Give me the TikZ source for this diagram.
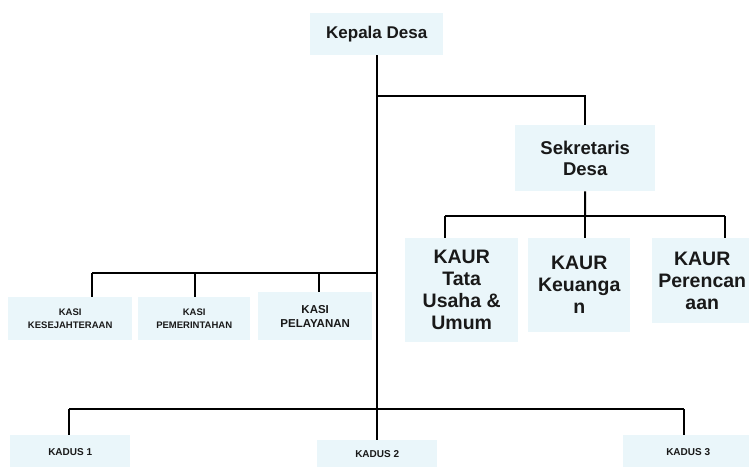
\documentclass[tikz,border=0pt]{standalone}
\usepackage{fontspec}
\setmainfont{Liberation Sans}
\definecolor{boxfill}{RGB}{234,246,250}
\definecolor{inktext}{RGB}{25,25,25}
\begin{document}
\begin{tikzpicture}[x=1pt,y=-1pt,
  orgbox/.style={fill=boxfill, draw=none, inner sep=0pt, align=center, anchor=north west, text=inktext},
  bigtext/.style={font=\bfseries\fontsize{19.5}{22}\selectfont},
  smalltext/.style={font=\bfseries\fontsize{9.5}{13}\selectfont},
  kadustext/.style={font=\bfseries\fontsize{10}{12}\selectfont},
  link/.style={line width=2pt, black}]
\clip (0,0) rectangle (749,466);
\fill[white] (0,0) rectangle (749,466);

% boxes
\node[orgbox, minimum width=133pt, minimum height=42pt, font=\bfseries\fontsize{17}{20}\selectfont] (kepala) at (310,13) {Kepala Desa};
\node[orgbox, minimum width=140pt, minimum height=66pt, font=\bfseries\fontsize{18.5}{21}\selectfont] (sek) at (515,125) {Sekretaris\\Desa};
\node[orgbox, bigtext, minimum width=113pt, minimum height=104pt] (tata) at (405,238) {KAUR\\Tata\\Usaha \&\\Umum};
\node[orgbox, bigtext, minimum width=102pt, minimum height=94pt] (keu) at (528,238) {KAUR\\Keuanga\\n};
\node[orgbox, bigtext, minimum width=100pt, minimum height=85pt] (per) at (652,238) {KAUR\\Perencan\\aan};
\node[orgbox, smalltext, minimum width=124pt, minimum height=43pt] (kasia) at (8,297) {KASI\\KESEJAHTERAAN};
\node[orgbox, smalltext, minimum width=112pt, minimum height=43pt] (kasib) at (138,297) {KASI\\PEMERINTAHAN};
\node[orgbox, font=\bfseries\fontsize{11.5}{14}\selectfont, minimum width=114pt, minimum height=48pt] (kasic) at (258,292) {KASI\\PELAYANAN};
\node[orgbox, kadustext, minimum width=120pt, minimum height=33pt] (kadusa) at (10,435) {KADUS 1};
\node[orgbox, kadustext, minimum width=120pt, minimum height=28pt] (kadusb) at (317,440) {KADUS 2};
\node[orgbox, kadustext, minimum width=130pt, minimum height=33pt] (kadusc) at (623,435) {KADUS 3};

% bus coordinates
\coordinate (sekj) at (376,96);
\coordinate (kaurL) at (445,216);
\coordinate (kaurM) at (585,216);
\coordinate (kaurR) at (725,216);
\coordinate (kasiL) at (92,273);
\coordinate (kasiM) at (195,273);
\coordinate (kasiN) at (319,273);
\coordinate (kasiR) at (376,273);
\coordinate (kadL) at (69,409);
\coordinate (kadR) at (684,409);

% connectors
\draw[link] (kepala.south) -- (kepala.south |- kadusb.north);
\draw[link] (sekj) -| (sek.north);
\draw[link] (sek.south) -- (kaurM);
\draw[link] (kaurL) -- (kaurR);
\draw[link] (kaurL) -- (kaurL |- tata.north);
\draw[link] (kaurM) -- (kaurM |- keu.north);
\draw[link] (kaurR) -- (kaurR |- per.north);
\draw[link] (kasiL) -- (kasiR);
\draw[link] (kasiL) -- (kasiL |- kasia.north);
\draw[link] (kasiM) -- (kasiM |- kasib.north);
\draw[link] (kasiN) -- (kasiN |- kasic.north);
\draw[link] (kadL) -- (kadR);
\draw[link] (kadL) -- (kadL |- kadusa.north);
\draw[link] (kadR) -- (kadR |- kadusc.north);
\end{tikzpicture}
\end{document}
